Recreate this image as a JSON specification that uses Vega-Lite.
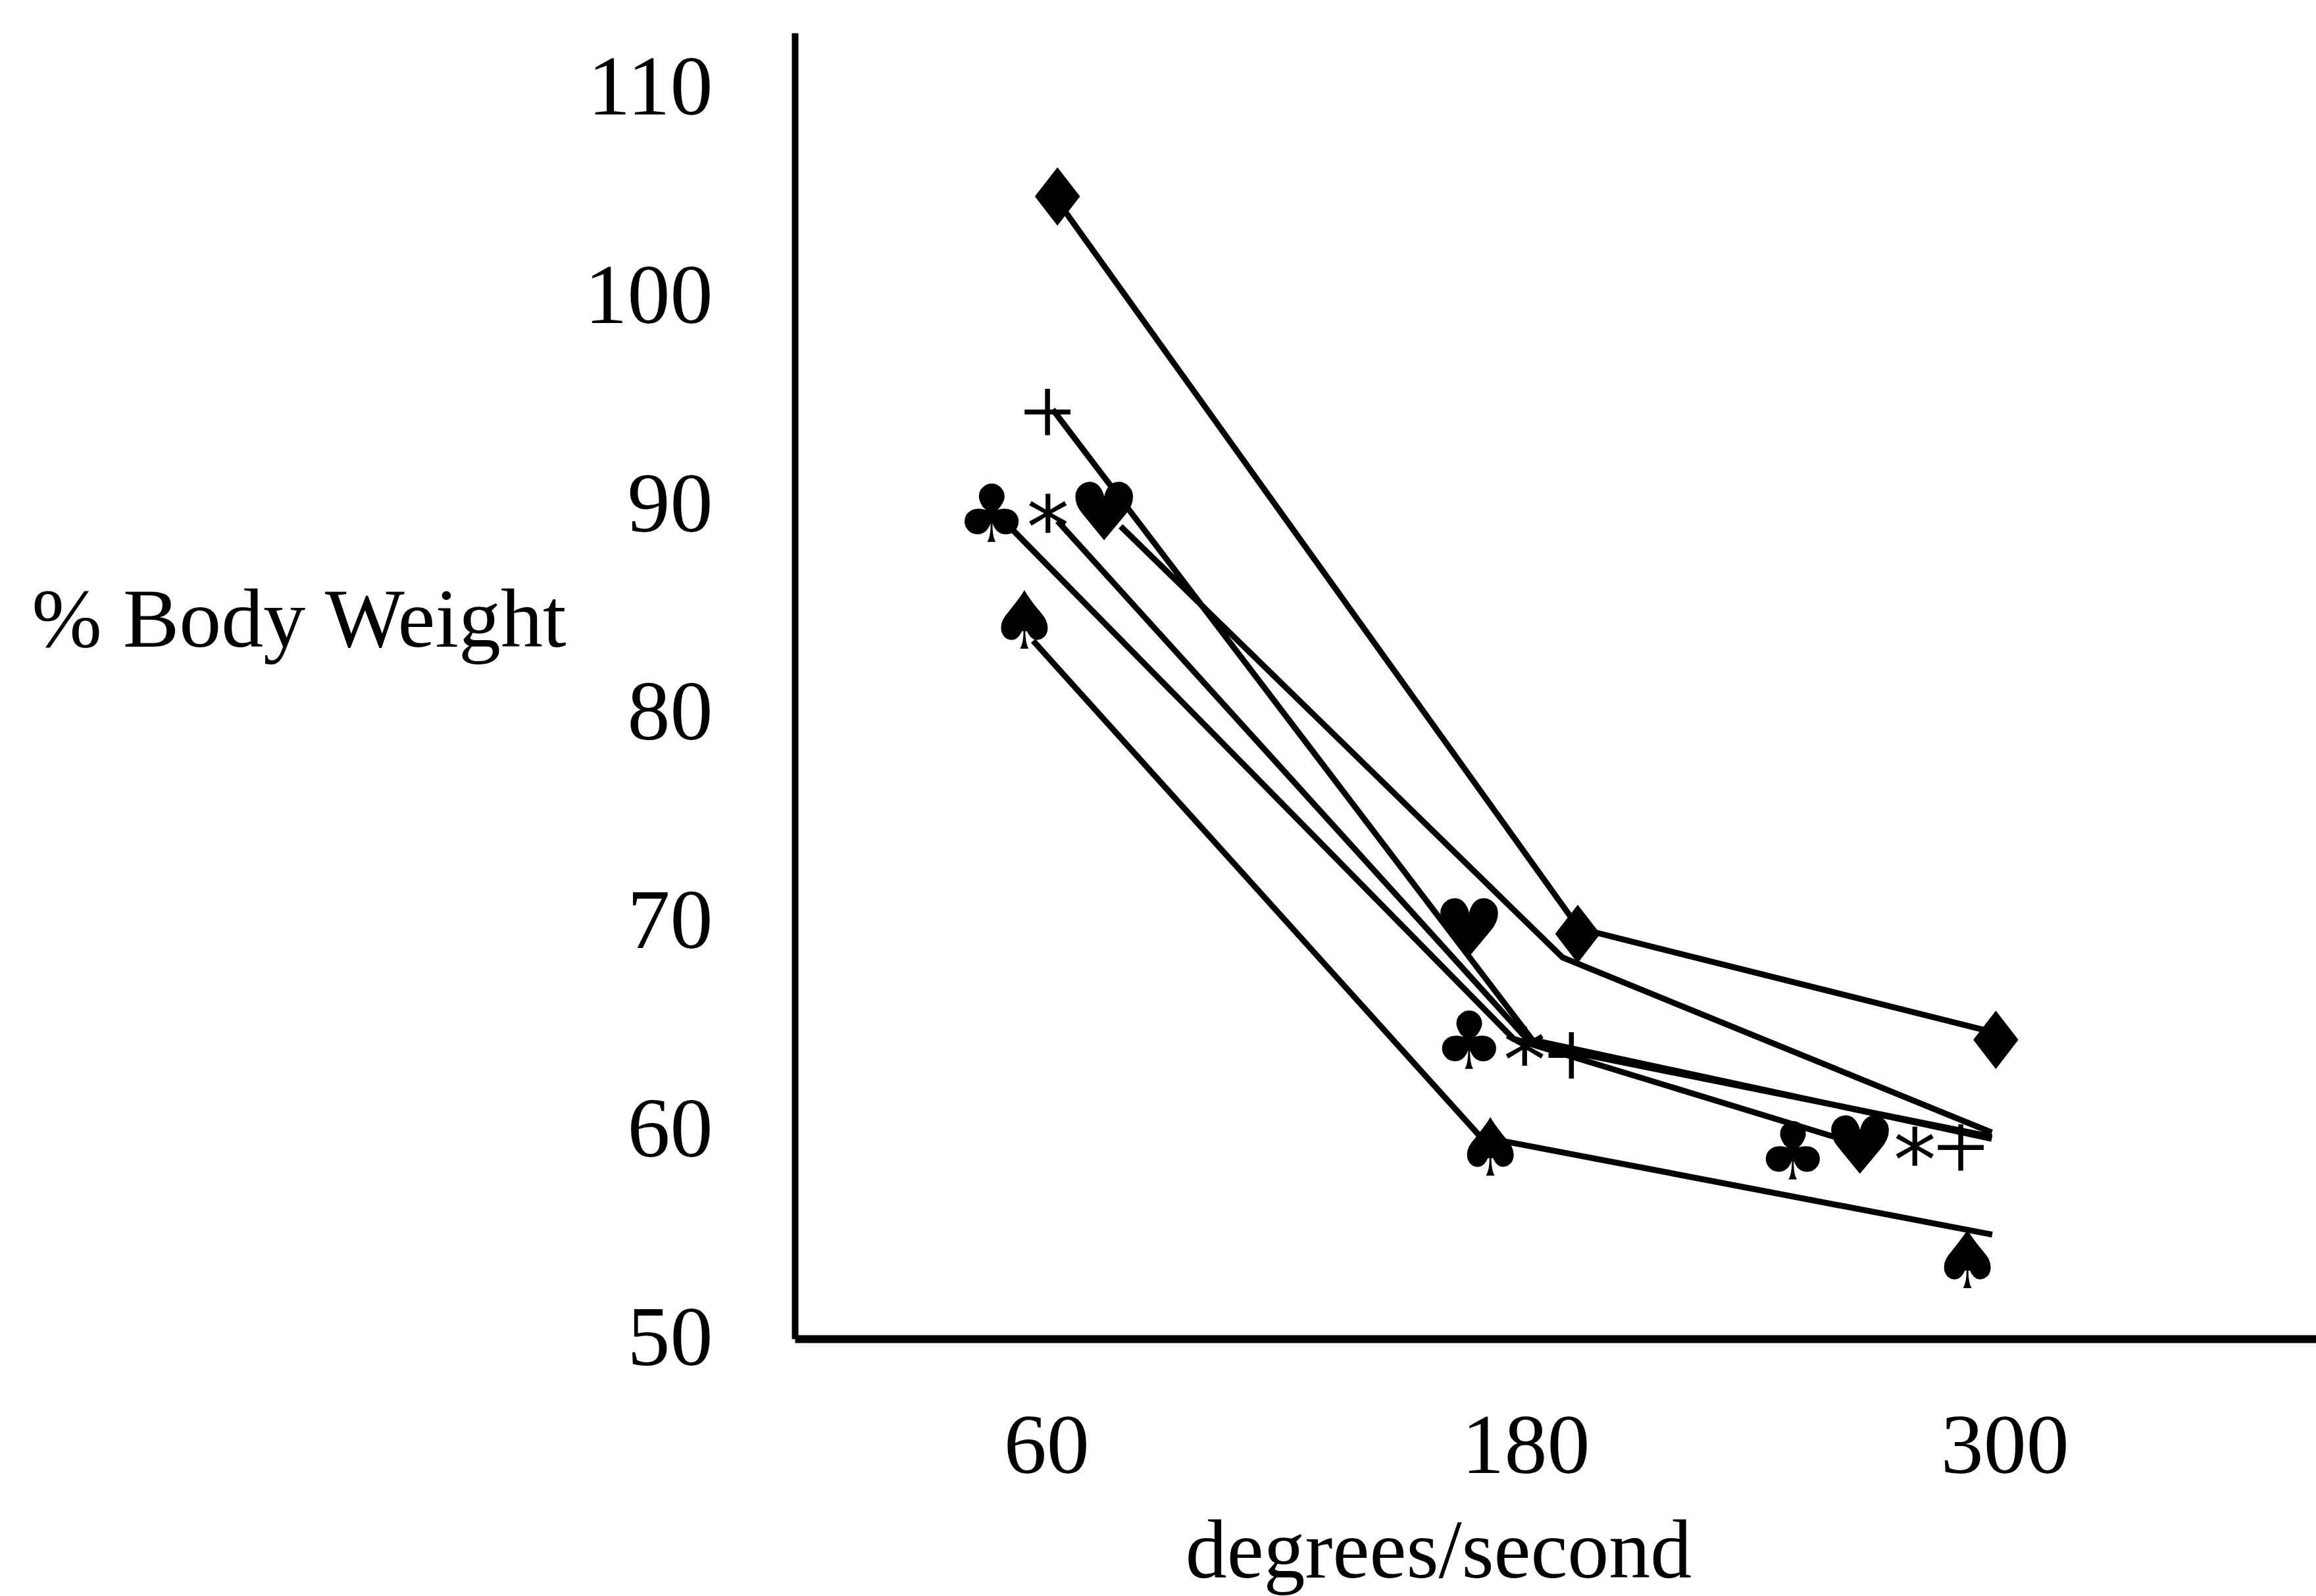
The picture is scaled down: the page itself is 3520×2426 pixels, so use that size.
{
  "$schema": "https://vega.github.io/schema/vega-lite/v6.json",
  "width": 2312,
  "height": 1985,
  "autosize": {"type": "none"},
  "padding": {"left": 1208, "top": 50, "right": 0, "bottom": 391},
  "background": "white",
  "config": {"view": {"stroke": null}, "font": "Liberation Serif"},
  "datasets": {
    "lines": [
      {"series": "A", "speed": 63.6, "pct": 104.4},
      {"series": "A", "speed": 193.4, "pct": 69.7},
      {"series": "A", "speed": 296.4, "pct": 64.75},
      {"series": "B", "speed": 61.6, "pct": 94.6},
      {"series": "B", "speed": 182.7, "pct": 64.1},
      {"series": "B", "speed": 296.8, "pct": 59.7},
      {"series": "C", "speed": 78.6, "pct": 89.0},
      {"series": "C", "speed": 189.3, "pct": 68.3},
      {"series": "C", "speed": 296.8, "pct": 59.9},
      {"series": "D", "speed": 62.8, "pct": 89.25},
      {"series": "D", "speed": 180.3, "pct": 64.4},
      {"series": "D", "speed": 296.8, "pct": 59.6},
      {"series": "E", "speed": 51.7, "pct": 88.8},
      {"series": "E", "speed": 177.0, "pct": 64.4},
      {"series": "E", "speed": 257.2, "pct": 59.7},
      {"series": "F", "speed": 56.7, "pct": 83.5},
      {"series": "F", "speed": 168.7, "pct": 59.7},
      {"series": "F", "speed": 296.9, "pct": 55.0}
    ],
    "markers": [
      {"series": "A", "symbol": "♦", "speed": 62.8, "pct": 104.6},
      {"series": "B", "symbol": "+", "speed": 60.3, "pct": 94.5},
      {"series": "E", "symbol": "♣", "speed": 46.3, "pct": 89.4},
      {"series": "D", "symbol": "*", "speed": 60.4, "pct": 89.7},
      {"series": "C", "symbol": "♥", "speed": 74.5, "pct": 89.5},
      {"series": "F", "symbol": "♠", "speed": 54.5, "pct": 84.3},
      {"series": "C", "symbol": "♥", "speed": 165.9, "pct": 69.5},
      {"series": "A", "symbol": "♦", "speed": 193.1, "pct": 69.2},
      {"series": "E", "symbol": "♣", "speed": 165.9, "pct": 64.1},
      {"series": "D", "symbol": "*", "speed": 179.8, "pct": 64.1},
      {"series": "B", "symbol": "+", "speed": 191.5, "pct": 63.6},
      {"series": "F", "symbol": "♠", "speed": 171.2, "pct": 59.0},
      {"series": "A", "symbol": "♦", "speed": 297.8, "pct": 64.1},
      {"series": "E", "symbol": "♣", "speed": 247.0, "pct": 58.8},
      {"series": "C", "symbol": "♥", "speed": 263.8, "pct": 59.1},
      {"series": "D", "symbol": "*", "speed": 277.5, "pct": 59.3},
      {"series": "B", "symbol": "+", "speed": 289.0, "pct": 59.2},
      {"series": "F", "symbol": "♠", "speed": 290.7, "pct": 53.6}
    ]
  },
  "encoding": {
    "x": {
      "field": "speed",
      "type": "quantitative",
      "scale": {"domain": [-3, 378], "nice": false, "zero": false},
      "axis": {
        "values": [60, 180, 300],
        "ticks": false,
        "grid": false,
        "domainColor": "black",
        "domainWidth": 12,
        "labelFont": "Liberation Serif",
        "labelFontSize": 130,
        "labelColor": "black",
        "labelPadding": 100,
        "labelLimit": 0,
        "labelFlush": false,
        "labelOverlap": false,
        "title": "degrees/second",
        "titleFont": "Liberation Serif",
        "titleFontSize": 126,
        "titleFontWeight": "normal",
        "titleColor": "black",
        "titleLimit": 0,
        "titleX": 978,
        "titleY": 362,
        "titleAlign": "center",
        "titleBaseline": "alphabetic"
      }
    },
    "y": {
      "field": "pct",
      "type": "quantitative",
      "scale": {"domain": [50, 112.68], "nice": false, "zero": false},
      "axis": {
        "values": [50, 60, 70, 80, 90, 100, 110],
        "ticks": false,
        "grid": false,
        "domainColor": "black",
        "domainWidth": 10,
        "labelFont": "Liberation Serif",
        "labelFontSize": 130,
        "labelColor": "black",
        "labelPadding": 125,
        "labelLimit": 0,
        "labelAlign": "right",
        "labelBaseline": "middle",
        "labelFlush": false,
        "labelOverlap": false,
        "title": "% Body Weight",
        "titleFont": "Liberation Serif",
        "titleFontSize": 128,
        "titleFontWeight": "normal",
        "titleColor": "black",
        "titleLimit": 0,
        "titleAngle": 0,
        "titleAlign": "right",
        "titleBaseline": "alphabetic",
        "titleX": -348,
        "titleY": 932
      }
    }
  },
  "layer": [
    {
      "data": {"name": "lines"},
      "mark": {"type": "line", "color": "black", "strokeWidth": 9},
      "encoding": {"detail": {"field": "series", "type": "nominal"}}
    },
    {
      "data": {"name": "markers"},
      "transform": [{"filter": "datum.symbol !== '*' && datum.symbol !== '+'"}],
      "mark": {"type": "text", "font": "DejaVu Sans", "fontSize": 122, "color": "black", "baseline": "middle", "align": "center"},
      "encoding": {"text": {"field": "symbol", "type": "nominal"}}
    },
    {
      "data": {"name": "markers"},
      "transform": [{"filter": "datum.symbol === '*'"}],
      "mark": {"type": "text", "font": "DejaVu Sans", "fontSize": 130, "color": "black", "baseline": "middle", "align": "center", "dy": 30},
      "encoding": {"text": {"field": "symbol", "type": "nominal"}}
    },
    {
      "data": {"name": "markers"},
      "transform": [{"filter": "datum.symbol === '+'"}],
      "mark": {"type": "text", "font": "Liberation Serif", "fontSize": 150, "color": "black", "baseline": "middle", "align": "center", "dy": 5},
      "encoding": {"text": {"field": "symbol", "type": "nominal"}}
    }
  ]
}
